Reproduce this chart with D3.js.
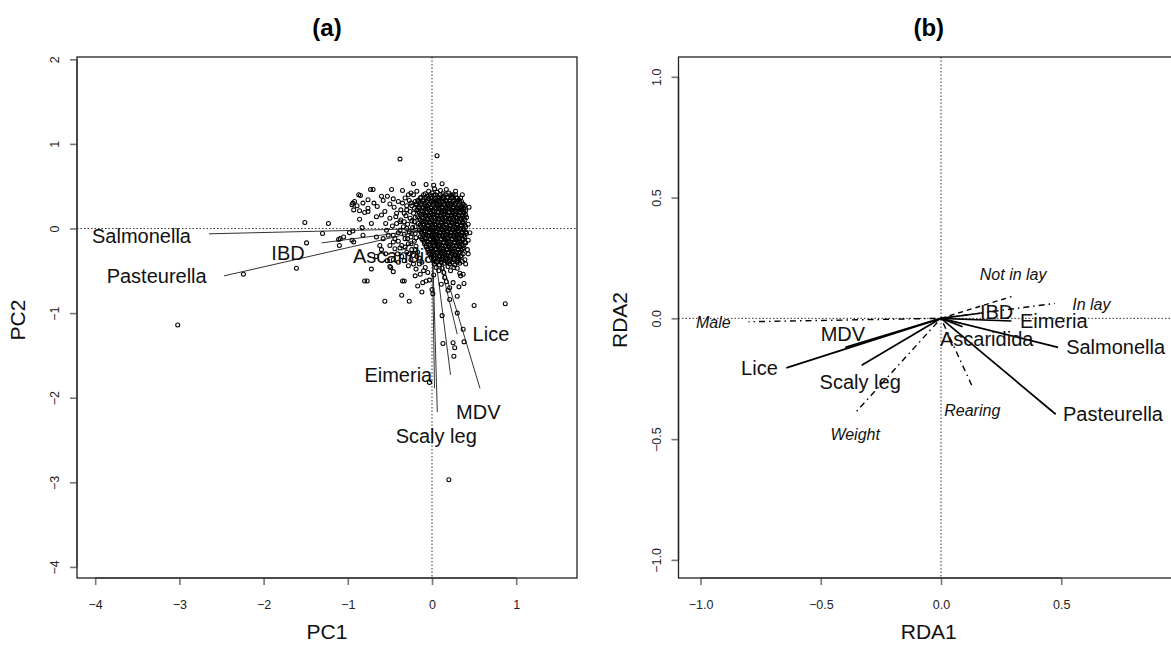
<!DOCTYPE html>
<html><head><meta charset="utf-8">
<script src="https://cdnjs.cloudflare.com/ajax/libs/d3/7.8.5/d3.min.js"></script>
<style>
body{margin:0;background:#fff}
text{font-family:"Liberation Sans",Arial,Helvetica,sans-serif}
</style></head>
<body><svg id="c" width="1171" height="645"></svg>
<script>
// ---------- Panel (a) data: PCA scores ----------
const pcScores = [
[0.03,0.47],[0.10,0.45],[0.17,0.46],[-0.04,0.44],
[-0.08,0.41],[0.00,0.42],[0.06,0.43],[0.13,0.41],[0.20,0.42],[0.25,0.40],
[-0.13,0.37],[-0.05,0.38],[0.02,0.39],[0.08,0.37],[0.14,0.38],[0.19,0.37],[0.24,0.38],[0.30,0.36],
[-0.17,0.33],[-0.10,0.34],[-0.04,0.35],[0.01,0.33],[0.06,0.34],[0.11,0.35],[0.16,0.33],[0.21,0.34],[0.27,0.33],[0.32,0.34],
[-0.19,0.29],[-0.14,0.31],[-0.08,0.30],[-0.03,0.29],[0.02,0.31],[0.06,0.30],[0.10,0.29],[0.14,0.31],[0.19,0.30],[0.23,0.29],[0.28,0.30],[0.33,0.31],[0.37,0.29],
[-0.16,0.26],[-0.11,0.25],[-0.06,0.27],[-0.01,0.26],[0.04,0.25],[0.08,0.27],[0.12,0.26],[0.17,0.25],[0.21,0.27],[0.25,0.26],[0.30,0.25],[0.35,0.26],[0.39,0.27],
[-0.18,0.22],[-0.13,0.21],[-0.08,0.23],[-0.04,0.22],[0.01,0.21],[0.05,0.23],[0.10,0.22],[0.14,0.21],[0.18,0.23],[0.23,0.22],[0.27,0.21],[0.31,0.23],[0.36,0.22],[0.40,0.21],
[-0.15,0.18],[-0.10,0.17],[-0.06,0.19],[-0.01,0.18],[0.03,0.17],[0.08,0.19],[0.12,0.18],[0.16,0.17],[0.21,0.19],[0.25,0.18],[0.29,0.17],[0.34,0.19],[0.38,0.18],
[-0.17,0.14],[-0.12,0.13],[-0.07,0.15],[-0.03,0.14],[0.02,0.13],[0.06,0.15],[0.10,0.14],[0.15,0.13],[0.19,0.15],[0.23,0.14],[0.28,0.13],[0.32,0.15],[0.36,0.14],[0.41,0.13],
[-0.14,0.10],[-0.09,0.09],[-0.05,0.11],[0.00,0.10],[0.04,0.09],[0.09,0.11],[0.13,0.10],[0.17,0.09],[0.22,0.11],[0.26,0.10],[0.30,0.09],[0.35,0.11],[0.39,0.10],
[-0.16,0.06],[-0.11,0.05],[-0.06,0.07],[-0.02,0.06],[0.03,0.05],[0.07,0.07],[0.11,0.06],[0.16,0.05],[0.20,0.07],[0.24,0.06],[0.29,0.05],[0.33,0.07],[0.37,0.06],
[-0.13,0.02],[-0.08,0.01],[-0.04,0.03],[0.01,0.02],[0.05,0.01],[0.09,0.03],[0.14,0.02],[0.18,0.01],[0.22,0.03],[0.27,0.02],[0.31,0.01],[0.35,0.03],[0.40,0.02],
[-0.15,-0.02],[-0.10,-0.03],[-0.05,-0.01],[-0.01,-0.02],[0.04,-0.03],[0.08,-0.01],[0.12,-0.02],[0.17,-0.03],[0.21,-0.01],[0.25,-0.02],[0.30,-0.03],[0.34,-0.01],[0.38,-0.02],
[-0.12,-0.06],[-0.07,-0.07],[-0.03,-0.05],[0.02,-0.06],[0.06,-0.07],[0.10,-0.05],[0.15,-0.06],[0.19,-0.07],[0.23,-0.05],[0.28,-0.06],[0.32,-0.07],[0.36,-0.05],[0.41,-0.06],
[-0.14,-0.10],[-0.09,-0.11],[-0.04,-0.09],[0.00,-0.10],[0.04,-0.11],[0.09,-0.09],[0.13,-0.10],[0.17,-0.11],[0.22,-0.09],[0.26,-0.10],[0.30,-0.11],[0.35,-0.09],[0.39,-0.10],
[-0.11,-0.14],[-0.06,-0.15],[-0.02,-0.13],[0.03,-0.14],[0.07,-0.15],[0.11,-0.13],[0.16,-0.14],[0.20,-0.15],[0.24,-0.13],[0.29,-0.14],[0.33,-0.15],[0.37,-0.13],
[-0.09,-0.18],[-0.04,-0.19],[0.01,-0.17],[0.05,-0.18],[0.09,-0.19],[0.14,-0.17],[0.18,-0.18],[0.22,-0.19],[0.27,-0.17],[0.31,-0.18],[0.35,-0.19],[0.40,-0.17],
[-0.07,-0.22],[-0.02,-0.23],[0.02,-0.21],[0.07,-0.22],[0.11,-0.23],[0.16,-0.21],[0.20,-0.22],[0.24,-0.23],[0.29,-0.21],[0.33,-0.22],[0.38,-0.23],
[-0.05,-0.26],[0.00,-0.27],[0.04,-0.25],[0.09,-0.26],[0.13,-0.27],[0.17,-0.25],[0.22,-0.26],[0.26,-0.27],[0.31,-0.25],[0.35,-0.26],
[-0.03,-0.30],[0.02,-0.31],[0.06,-0.29],[0.11,-0.30],[0.15,-0.31],[0.19,-0.29],[0.24,-0.30],[0.28,-0.31],[0.32,-0.29],[0.37,-0.30],
[-0.01,-0.34],[0.04,-0.35],[0.08,-0.33],[0.13,-0.34],[0.17,-0.35],[0.21,-0.33],[0.26,-0.34],[0.30,-0.35],[0.34,-0.33],
[0.01,-0.38],[0.06,-0.39],[0.11,-0.37],[0.16,-0.38],[0.21,-0.39],[0.26,-0.37],[0.31,-0.38],[0.36,-0.39],
[0.03,-0.42],[0.09,-0.43],[0.15,-0.41],[0.21,-0.42],[0.27,-0.43],[0.33,-0.41],
[0.05,-0.46],[0.12,-0.47],[0.19,-0.45],[0.26,-0.46],
[-0.10,0.40],[-0.02,0.40],[0.04,0.40],[0.10,0.40],[0.16,0.40],[0.22,0.40],[0.28,0.40],
[-0.14,0.36],[-0.07,0.36],[-0.01,0.36],[0.04,0.36],[0.09,0.36],[0.13,0.36],[0.18,0.36],[0.23,0.36],[0.29,0.36],[0.34,0.36],
[-0.16,0.32],[-0.11,0.32],[-0.06,0.32],[-0.01,0.32],[0.04,0.32],[0.08,0.32],[0.12,0.32],[0.17,0.32],[0.21,0.32],[0.25,0.32],[0.30,0.32],[0.35,0.32],
[-0.18,0.28],[-0.13,0.28],[-0.09,0.28],[-0.04,0.28],[0.01,0.28],[0.06,0.28],[0.10,0.28],[0.14,0.28],[0.19,0.28],[0.23,0.28],[0.27,0.28],[0.32,0.28],[0.37,0.28],
[-0.15,0.24],[-0.10,0.24],[-0.05,0.24],[-0.01,0.24],[0.03,0.24],[0.08,0.24],[0.12,0.24],[0.16,0.24],[0.20,0.24],[0.25,0.24],[0.29,0.24],[0.33,0.24],[0.38,0.24],
[-0.16,0.20],[-0.11,0.20],[-0.06,0.20],[-0.02,0.20],[0.03,0.20],[0.07,0.20],[0.12,0.20],[0.16,0.20],[0.20,0.20],[0.25,0.20],[0.29,0.20],[0.33,0.20],[0.38,0.20],
[-0.13,0.16],[-0.08,0.16],[-0.04,0.16],[0.01,0.16],[0.05,0.16],[0.10,0.16],[0.14,0.16],[0.18,0.16],[0.23,0.16],[0.27,0.16],[0.31,0.16],[0.36,0.16],[0.40,0.16],
[-0.15,0.12],[-0.10,0.12],[-0.05,0.12],[-0.01,0.12],[0.04,0.12],[0.08,0.12],[0.12,0.12],[0.17,0.12],[0.21,0.12],[0.25,0.12],[0.30,0.12],[0.34,0.12],[0.38,0.12],
[-0.12,0.08],[-0.07,0.08],[-0.03,0.08],[0.02,0.08],[0.06,0.08],[0.11,0.08],[0.15,0.08],[0.19,0.08],[0.23,0.08],[0.28,0.08],[0.32,0.08],[0.36,0.08],
[-0.14,0.04],[-0.09,0.04],[-0.05,0.04],[0.00,0.04],[0.05,0.04],[0.09,0.04],[0.13,0.04],[0.17,0.04],[0.22,0.04],[0.26,0.04],[0.30,0.04],[0.35,0.04],[0.39,0.04],
[-0.11,0.00],[-0.06,0.00],[-0.02,0.00],[0.03,0.00],[0.07,0.00],[0.11,0.00],[0.16,0.00],[0.20,0.00],[0.24,0.00],[0.29,0.00],[0.33,0.00],[0.37,0.00],
[-0.13,-0.04],[-0.08,-0.04],[-0.03,-0.04],[0.01,-0.04],[0.06,-0.04],[0.10,-0.04],[0.14,-0.04],[0.19,-0.04],[0.23,-0.04],[0.27,-0.04],[0.32,-0.04],[0.36,-0.04],[0.40,-0.04],
[-0.10,-0.08],[-0.05,-0.08],[-0.01,-0.08],[0.04,-0.08],[0.08,-0.08],[0.12,-0.08],[0.17,-0.08],[0.21,-0.08],[0.25,-0.08],[0.30,-0.08],[0.34,-0.08],[0.38,-0.08],
[-0.12,-0.12],[-0.07,-0.12],[-0.02,-0.12],[0.02,-0.12],[0.06,-0.12],[0.11,-0.12],[0.15,-0.12],[0.19,-0.12],[0.24,-0.12],[0.28,-0.12],[0.32,-0.12],[0.36,-0.12],
[-0.09,-0.16],[-0.04,-0.16],[0.01,-0.16],[0.05,-0.16],[0.09,-0.16],[0.14,-0.16],[0.18,-0.16],[0.22,-0.16],[0.27,-0.16],[0.31,-0.16],[0.35,-0.16],[0.39,-0.16],
[-0.07,-0.20],[-0.02,-0.20],[0.03,-0.20],[0.07,-0.20],[0.12,-0.20],[0.16,-0.20],[0.20,-0.20],[0.25,-0.20],[0.29,-0.20],[0.33,-0.20],[0.37,-0.20],
[-0.05,-0.24],[0.00,-0.24],[0.05,-0.24],[0.09,-0.24],[0.14,-0.24],[0.18,-0.24],[0.22,-0.24],[0.27,-0.24],[0.31,-0.24],[0.36,-0.24],
[-0.03,-0.28],[0.02,-0.28],[0.07,-0.28],[0.11,-0.28],[0.15,-0.28],[0.20,-0.28],[0.24,-0.28],[0.29,-0.28],[0.33,-0.28],
[0.00,-0.32],[0.04,-0.32],[0.09,-0.32],[0.13,-0.32],[0.18,-0.32],[0.22,-0.32],[0.27,-0.32],[0.31,-0.32],[0.35,-0.32],
[0.02,-0.36],[0.07,-0.36],[0.12,-0.36],[0.17,-0.36],[0.21,-0.36],[0.26,-0.36],[0.31,-0.36],
[0.05,-0.40],[0.11,-0.40],[0.18,-0.40],[0.24,-0.40],[0.30,-0.40],
[-0.22,0.40],[-0.27,0.33],[-0.24,0.27],[-0.30,0.22],[-0.22,0.18],[-0.26,0.12],[-0.21,0.08],[-0.29,0.05],[-0.23,0.01],[-0.27,-0.04],
[-0.20,-0.06],[-0.25,-0.10],[-0.21,-0.15],[-0.28,-0.18],[-0.19,-0.21],[-0.24,-0.25],[-0.17,-0.28],[-0.22,-0.32],[-0.15,-0.35],[-0.12,-0.40],
[-0.35,0.30],[-0.33,0.18],[-0.37,0.10],[-0.34,0.02],[-0.40,-0.05],[-0.32,-0.12],[-0.36,-0.20],[-0.30,-0.28],[-0.41,-0.30],[-0.33,-0.38],
[-0.28,-0.44],[-0.19,-0.48],[-0.08,-0.46],[-0.05,-0.52],[0.02,-0.55],[0.08,-0.50],[0.14,-0.52],[0.22,-0.50],[0.30,-0.47],[0.40,-0.42],
[0.43,-0.30],[0.45,-0.05],[0.43,0.05],[0.44,0.25],[0.36,0.40],[0.28,0.44],[-0.45,0.25],[-0.50,0.12],[-0.47,0.03],[-0.52,-0.08],
[-0.44,-0.12],[-0.55,-0.30],[-0.62,-0.20],[-0.66,0.14],[-0.69,0.30],[-0.58,0.33],[-0.80,0.19],[-0.98,-0.05],[-1.05,-0.10],
[-0.18,0.44],[-0.28,0.40],[-0.32,0.36],[-0.20,0.32],[-0.25,0.30],[-0.40,0.32],[-0.30,0.27],[-0.21,0.24],[-0.37,0.22],[-0.26,0.20],
[-0.42,0.18],[-0.31,0.15],[-0.20,0.13],[-0.24,0.09],[-0.33,0.08],[-0.42,0.06],[-0.30,0.00],[-0.20,0.02],[-0.38,-0.02],[-0.24,-0.06],
[-0.33,-0.07],[-0.46,-0.08],[-0.29,-0.12],[-0.19,-0.11],[-0.40,-0.15],[-0.25,-0.18],[-0.32,-0.22],[-0.20,-0.25],[-0.44,-0.24],[-0.27,-0.30],
[-0.18,-0.33],[-0.36,-0.33],[-0.25,-0.37],[-0.15,-0.42],[-0.40,-0.40],[-0.22,-0.42],[-0.10,-0.50],[-0.53,0.38],[-0.50,0.29],[-0.55,0.06],
[-0.58,-0.12],[-0.50,-0.20],[-0.66,-0.33],[-0.53,-0.38],
[-0.38,0.82],[0.06,0.86],[-1.51,0.07],[-1.23,0.06],[-1.30,-0.06],[-1.49,-0.17],[-1.61,-0.47],[-2.24,-0.54],[-3.02,-1.14],
[-1.09,-0.12],[-1.10,-0.20],[-0.93,-0.16],[-0.77,-0.62],[-0.56,-0.86],[-0.27,-0.86],[-0.33,-0.62],[0.50,-0.91],[0.87,-0.89],
[-0.85,0.39],[-0.70,0.46],[-0.92,0.32],[-0.76,0.34],[-0.89,0.27],[0.12,-1.03],[0.30,-1.00],[0.37,-1.19],[0.25,-1.35],
[0.38,-1.34],[0.13,-1.36],[0.27,-1.41],[0.26,-1.51],[-0.03,-1.82],[0.20,-2.97],
[-0.72,-0.48],[-0.80,-0.62],[-0.35,-0.62],[-0.36,-0.79],[-0.17,-0.68],[-0.11,-0.64],[-0.07,-0.62],[-0.03,-0.61],[-0.12,-0.75],
[0.00,-0.72],[0.01,-0.77],[-0.14,-0.54],[-0.20,-0.56],[-0.46,-0.51],[-0.49,-0.46],[0.15,-0.58],[0.17,-0.63],[0.11,-0.66],
[0.19,-0.73],[0.21,-0.70],[0.25,-0.64],[0.32,-0.69],[0.34,-0.56],[0.37,-0.54],[0.38,-0.65],[0.30,-0.80],[0.21,-0.84],
[-0.22,0.53],[-0.07,0.52],[0.02,0.51],[0.12,0.53],[-0.48,0.46],[-0.35,0.45],[-0.25,0.42],[-0.46,0.35],[-0.56,0.20],
[-0.60,0.16],[-0.43,0.14],[-0.38,0.08],[-0.54,-0.02],[-0.46,-0.16],[-0.38,-0.23],[-0.50,-0.45],[0.35,0.22],[0.43,-0.14],
[0.42,-0.25],[0.39,-0.37],[0.33,-0.53],[-0.73,0.46],[-0.87,0.40],[-0.94,0.30],[-0.82,0.30],[-0.93,0.22],[-0.86,0.21],
[-0.76,0.20],[-0.65,0.26],[-0.86,0.11],[-0.72,0.06],[-0.83,0.01],[-0.94,-0.03],[-1.11,-0.13],[-0.95,-0.14],[-0.82,-0.08],
[-0.66,-0.10],[-0.60,-0.25],[-0.46,-0.37],[-0.60,0.38],[-0.76,0.24],[-0.95,0.28]
];
// PCA loading arrows (line ends) and labels
const pcArrowEnds = [[-2.65,-0.063],[-2.47,-0.56],[-1.31,-0.17],[-0.36,-0.26],[0.03,-1.89],[0.063,-2.17],[0.22,-1.73],[0.30,-1.25],[0.57,-1.89]];
const pcLabels = ["Salmonella","Pasteurella","IBD","Ascaridia","Eimeria","Lice","MDV","Scaly leg"];
const pcLabelPos = [[-3.45,-0.085],[-3.27,-0.56],[-1.71,-0.29],[-0.45,-0.33],[-0.40,-1.73],[0.70,-1.25],[0.55,-2.17],[0.05,-2.45]];
const pcXTicks = [-4,-3,-2,-1,0,1];
const pcYTicks = [2,1,0,-1,-2,-3,-4];

// ---------- Panel (b) data: RDA ----------
const rdaSpecies = ["Salmonella","Pasteurella","Eimeria","IBD","Ascaridida","Lice","MDV","Scaly leg"];
const rdaSpeciesEnds = [[0.487,-0.12],[0.477,-0.397],[0.293,-0.011],[0.162,0.021],[0.09,-0.035],[-0.643,-0.205],[-0.398,-0.12],[-0.33,-0.194]];
const rdaSpeciesLabelPos = [[0.726,-0.12],[0.715,-0.397],[0.469,-0.011],[0.231,0.025],[0.19,-0.086],[-0.755,-0.205],[-0.408,-0.065],[-0.336,-0.263]];
const rdaEnv = ["Male","Weight","Rearing","In lay","Not in lay"];
const rdaEnvEnds = [[-0.80,-0.014],[-0.353,-0.387],[0.131,-0.284],[0.473,0.062],[0.293,0.09]];
const rdaEnvLabelPos = [[-0.947,-0.018],[-0.357,-0.48],[0.13,-0.383],[0.625,0.058],[0.30,0.18]];
const rdaEnvLineType = ["dotdash","dotdash","dotdash","dotdash","dashed"];
const rdaXTicks = [-1.0,-0.5,0.0,0.5,1.0];
const rdaYTicks = [1.0,0.5,0.0,-0.5,-1.0];

// ---------- Drawing ----------
const svg = d3.select("#c");
const boxTop = 57, boxBottom = 578;

function panel(cfg){
  const g = svg.append("g");
  const x = d3.scaleLinear().domain(cfg.xDom).range([cfg.left, cfg.right]);
  const y = d3.scaleLinear().domain(cfg.yDom).range([boxBottom, boxTop]);
  const clipId = "clip" + cfg.id;
  svg.append("clipPath").attr("id", clipId).append("rect")
     .attr("x", cfg.left).attr("y", boxTop).attr("width", cfg.right - cfg.left).attr("height", boxBottom - boxTop);
  const inner = g.append("g").attr("clip-path", `url(#${clipId})`);

  inner.append("line").attr("x1", cfg.left).attr("x2", cfg.right).attr("y1", y(0)).attr("y2", y(0))
    .attr("stroke","#000").attr("stroke-width",0.8).attr("stroke-dasharray","1.5,2");
  inner.append("line").attr("x1", x(0)).attr("x2", x(0)).attr("y1", boxTop).attr("y2", boxBottom)
    .attr("stroke","#000").attr("stroke-width",0.8).attr("stroke-dasharray","1.5,2");

  const xt = cfg.xTicks.filter(v => x(v) <= 1171);
  const xa = g.append("g").attr("transform", `translate(0,${boxBottom})`)
    .call(d3.axisBottom(x).tickValues(xt).tickSize(7).tickFormat(cfg.fmt));
  xa.select(".domain").remove();
  xa.selectAll(".tick line").attr("stroke","#777").attr("stroke-width",1.6);
  xa.selectAll(".tick text").attr("y",27).attr("dy","0.35em").attr("font-size",12.5).attr("fill","#222")
    .style("font-family",'"Liberation Sans",Arial,sans-serif');
  g.append("line").attr("x1", x(xt[0])).attr("x2", x(xt[xt.length-1])).attr("y1", boxBottom).attr("y2", boxBottom).attr("stroke","#777").attr("stroke-width",1.6);

  const ya = g.append("g").attr("transform", `translate(${cfg.left},0)`)
    .call(d3.axisLeft(y).tickValues(cfg.yTicks).tickSize(7).tickFormat(cfg.fmt));
  ya.select(".domain").remove();
  ya.selectAll(".tick line").attr("stroke","#777").attr("stroke-width",1.6);
  ya.selectAll(".tick text").attr("x",0).attr("dy","0.35em").attr("text-anchor","middle")
    .attr("transform","translate(-22,0) rotate(-90)").attr("font-size",12.5).attr("fill","#222")
    .style("font-family",'"Liberation Sans",Arial,sans-serif');
  g.append("line").attr("x1", cfg.left).attr("x2", cfg.left)
    .attr("y1", y(cfg.yTicks[0])).attr("y2", y(cfg.yTicks[cfg.yTicks.length-1])).attr("stroke","#777").attr("stroke-width",1.6);

  g.append("rect").attr("x", cfg.left).attr("y", boxTop).attr("width", cfg.right - cfg.left).attr("height", boxBottom - boxTop)
    .attr("fill","none").attr("stroke","#222").attr("stroke-width",1.3);

  const cx = (cfg.left + cfg.right) / 2;
  g.append("text").attr("x", cx).attr("y", 28).attr("dy","0.35em").attr("text-anchor","middle")
    .attr("font-size",24).attr("font-weight","bold").text(cfg.title);
  g.append("text").attr("x", cx).attr("y", 632).attr("dy","0.35em").attr("text-anchor","middle")
    .attr("font-size",21).attr("fill","#111").text(cfg.xLabel);
  g.append("text").attr("transform", `translate(${cfg.left - 59},320) rotate(-90)`).attr("dy","0.35em")
    .attr("text-anchor","middle").attr("font-size",21).attr("fill","#111").text(cfg.yLabel);
  return {x, y, inner};
}

// Panel (a)
const A = panel({id:"a", left:77, right:577, xDom:[-4.216,1.722], yDom:[-4.131,2.027],
  xTicks:pcXTicks, yTicks:pcYTicks, fmt:d3.format("d"), title:"(a)", xLabel:"PC1", yLabel:"PC2"});
A.inner.selectAll("line.arr").data(pcArrowEnds).join("line").attr("class","arr")
  .attr("x1", A.x(0)).attr("y1", A.y(0)).attr("x2", d => A.x(d[0])).attr("y2", d => A.y(d[1]))
  .attr("stroke","#333").attr("stroke-width",1);
A.inner.selectAll("text.lab").data(pcLabels).join("text").attr("class","lab")
  .attr("x", (d,i) => A.x(pcLabelPos[i][0])).attr("y", (d,i) => A.y(pcLabelPos[i][1]))
  .attr("dy","0.35em").attr("text-anchor","middle").attr("font-size",20).attr("fill","#111").text(d => d);
A.inner.selectAll("circle").data(pcScores).join("circle")
  .attr("cx", d => A.x(d[0])).attr("cy", d => A.y(d[1])).attr("r",2.0)
  .attr("fill","none").attr("stroke","#000").attr("stroke-width",1.05);

// Panel (b)
const B = panel({id:"b", left:678.5, right:1179, xDom:[-1.0915,0.9896], yDom:[-1.075,1.082],
  xTicks:rdaXTicks, yTicks:rdaYTicks, fmt:d3.format(".1f"), title:"(b)", xLabel:"RDA1", yLabel:"RDA2"});
const dashFor = {dotdash:"1.5,4,6,4", dashed:"5,4"};
B.inner.selectAll("line.env").data(rdaEnvEnds).join("line").attr("class","env")
  .attr("x1", B.x(0)).attr("y1", B.y(0)).attr("x2", d => B.x(d[0])).attr("y2", d => B.y(d[1]))
  .attr("stroke","#000").attr("stroke-width",1.4).attr("stroke-dasharray",(d,i) => dashFor[rdaEnvLineType[i]]);
B.inner.selectAll("line.sp").data(rdaSpeciesEnds).join("line").attr("class","sp")
  .attr("x1", B.x(0)).attr("y1", B.y(0)).attr("x2", d => B.x(d[0])).attr("y2", d => B.y(d[1]))
  .attr("stroke","#000").attr("stroke-width",1.7);
B.inner.selectAll("text.env").data(rdaEnv).join("text").attr("class","env")
  .attr("x", (d,i) => B.x(rdaEnvLabelPos[i][0])).attr("y", (d,i) => B.y(rdaEnvLabelPos[i][1]))
  .attr("dy","0.35em").attr("text-anchor","middle").attr("font-size",16).attr("font-style","italic").attr("fill","#111").text(d => d);
B.inner.selectAll("text.sp").data(rdaSpecies).join("text").attr("class","sp")
  .attr("x", (d,i) => B.x(rdaSpeciesLabelPos[i][0])).attr("y", (d,i) => B.y(rdaSpeciesLabelPos[i][1]))
  .attr("dy","0.35em").attr("text-anchor","middle").attr("font-size",20).attr("fill","#111").text(d => d);
</script></body></html>
